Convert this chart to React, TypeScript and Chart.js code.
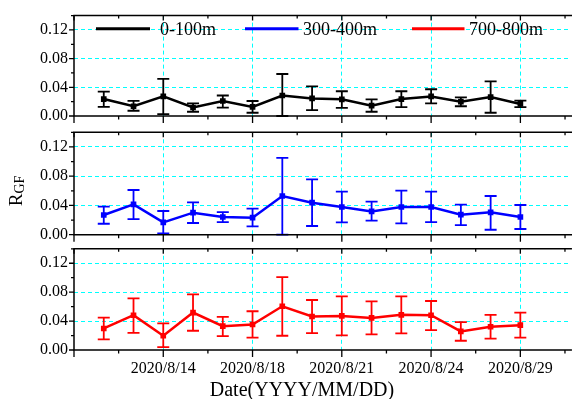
import React, { useEffect, useRef } from 'react';
import { Chart, registerables } from 'chart.js';

Chart.register(...registerables);

// ---- data ----
const pointIndex = [1, 2, 3, 4, 5, 6, 7, 8, 9, 10, 11, 12, 13, 14, 15];
const xTickValues = [0, 1.5, 3, 4.5, 6, 7.5, 9, 10.5, 12, 13.5, 15, 16.5];
const labeledIndex = [3, 6, 9, 12, 15];
const dateLabels = ['2020/8/14', '2020/8/18', '2020/8/21', '2020/8/24', '2020/8/29'];
const yTickValues = [0, 0.02, 0.04, 0.06, 0.08, 0.1, 0.12, 0.14];
const yLabeled = [0, 0.04, 0.08, 0.12];

const seriesNames = ['0-100m', '300-400m', '700-800m'];
const seriesColors = ['#000000', '#0000ff', '#ff0000'];

const mean0 = [0.0236, 0.0136, 0.0273, 0.0118, 0.0209, 0.0127, 0.0286, 0.0245, 0.0232, 0.0145, 0.0236, 0.0273, 0.02, 0.0264, 0.0168];
const high0 = [0.034, 0.021, 0.0518, 0.0177, 0.0286, 0.0209, 0.0586, 0.0414, 0.0345, 0.0232, 0.0345, 0.0373, 0.0259, 0.0482, 0.0214];
const low0 = [0.0127, 0.0073, 0.0027, 0.0059, 0.0118, 0.0045, 0.0, 0.0082, 0.0114, 0.0059, 0.0123, 0.0177, 0.0136, 0.0045, 0.0123];

const mean1 = [0.0269, 0.0415, 0.0169, 0.0301, 0.0242, 0.0233, 0.0529, 0.0438, 0.0379, 0.0319, 0.0379, 0.0379, 0.0274, 0.0306, 0.0242];
const high1 = [0.0383, 0.0611, 0.0324, 0.0442, 0.031, 0.0356, 0.1049, 0.0757, 0.0588, 0.0451, 0.0602, 0.0588, 0.041, 0.0529, 0.0406];
const low1 = [0.015, 0.0214, 0.0018, 0.016, 0.0173, 0.0114, 0.0, 0.0119, 0.0169, 0.0192, 0.0155, 0.0173, 0.0132, 0.0068, 0.0078];

const mean2 = [0.0298, 0.0481, 0.0197, 0.0518, 0.033, 0.0353, 0.0605, 0.0463, 0.0472, 0.0444, 0.0486, 0.0481, 0.0257, 0.0321, 0.0344];
const high2 = [0.0449, 0.0715, 0.0367, 0.077, 0.0458, 0.0536, 0.1008, 0.0692, 0.0742, 0.0674, 0.0742, 0.0678, 0.0385, 0.0486, 0.0518];
const low2 = [0.0147, 0.0238, 0.0041, 0.0266, 0.0192, 0.017, 0.0197, 0.0234, 0.0202, 0.0215, 0.0229, 0.0275, 0.0128, 0.0156, 0.017];

const FONT = "'Liberation Serif', 'Times New Roman', serif";
const CYAN = '#00ffff';

const near = (a: number, b: number) => Math.abs(a - b) < 1e-6;
const isXMajor = (v: number) => labeledIndex.some((m) => near(m, v));
const isYMajor = (v: number) => yLabeled.some((m) => near(m, v));

const framePlugin = {
  id: 'frame',
  afterDraw(chart: any) {
    const { ctx, chartArea } = chart;
    const { left, right, top, bottom } = chartArea;
    const xs = chart.scales.x;
    const ys = chart.scales.y;
    ctx.save();
    ctx.strokeStyle = '#000';
    ctx.lineWidth = 1.5;
    ctx.beginPath();
    ctx.moveTo(left, top);
    ctx.lineTo(right + 2, top);
    ctx.moveTo(left, bottom);
    ctx.lineTo(right + 2, bottom);
    ctx.moveTo(left, top - 0.75);
    ctx.lineTo(left, bottom + 0.75);
    ctx.stroke();
    ctx.lineWidth = 1.3;
    ctx.beginPath();
    xTickValues.forEach((v) => {
      const px = xs.getPixelForValue(v);
      const major = isXMajor(v) || v === 0;
      ctx.moveTo(px, bottom);
      ctx.lineTo(px, bottom + (major ? 7 : 3.5));
      ctx.moveTo(px, top);
      ctx.lineTo(px, top + (major ? 5 : 3));
    });
    yTickValues.forEach((v) => {
      const py = ys.getPixelForValue(v);
      const major = isYMajor(v);
      ctx.moveTo(left, py);
      ctx.lineTo(left - (major ? 5 : 3), py);
    });
    ctx.stroke();
    ctx.restore();
  },
};

const errorBarPlugin = {
  id: 'errorBars',
  afterDatasetsDraw(chart: any, _args: any, opts: any) {
    if (!opts || !opts.high) return;
    const { ctx } = chart;
    const ys = chart.scales.y;
    const meta = chart.getDatasetMeta(0);
    ctx.save();
    ctx.strokeStyle = opts.color;
    ctx.lineWidth = opts.width;
    ctx.beginPath();
    meta.data.forEach((pt: any, i: number) => {
      const x = pt.x;
      const yh = ys.getPixelForValue(opts.high[i]);
      const yl = ys.getPixelForValue(opts.low[i]);
      ctx.moveTo(x, yh);
      ctx.lineTo(x, yl);
      ctx.moveTo(x - 6, yh);
      ctx.lineTo(x + 6, yh);
      ctx.moveTo(x - 6, yl);
      ctx.lineTo(x + 6, yl);
    });
    ctx.stroke();
    ctx.restore();
  },
};

const legendPlugin = {
  id: 'customLegend',
  afterDraw(chart: any, _a: any, opts: any) {
    if (!opts || !opts.show) return;
    const { ctx } = chart;
    const off = opts.offsetY || 0;
    const lines = [
      [96, 150, 160],
      [245, 298.5, 303],
      [412, 464.5, 469],
    ];
    ctx.save();
    ctx.font = `18px ${FONT}`;
    ctx.textBaseline = 'middle';
    ctx.textAlign = 'left';
    lines.forEach((l, i) => {
      ctx.strokeStyle = seriesColors[i];
      ctx.lineWidth = 3;
      ctx.beginPath();
      ctx.moveTo(l[0], 28.7 - off);
      ctx.lineTo(l[1], 28.7 - off);
      ctx.stroke();
      ctx.fillStyle = '#000';
      ctx.fillText(seriesNames[i], l[2], 30.5 - off);
    });
    ctx.restore();
  },
};

const titlesPlugin = {
  id: 'titles',
  afterDraw(chart: any, _a: any, opts: any) {
    if (!opts) return;
    const { ctx } = chart;
    ctx.save();
    ctx.fillStyle = '#000';
    if (opts.yTitle) {
      const cy = opts.yTitleY;
      ctx.translate(22, cy);
      ctx.rotate(-Math.PI / 2);
      ctx.font = `19px ${FONT}`;
      const wR = ctx.measureText('R').width;
      ctx.font = `14px ${FONT}`;
      const wG = ctx.measureText('GF').width;
      const start = -(wR + wG) / 2;
      ctx.textBaseline = 'alphabetic';
      ctx.textAlign = 'left';
      ctx.font = `19px ${FONT}`;
      ctx.fillText('R', start, 0);
      ctx.font = `14px ${FONT}`;
      ctx.fillText('GF', start + wR, 1.5);
    }
    if (opts.xTitle) {
      ctx.font = `20px ${FONT}`;
      ctx.textAlign = 'center';
      ctx.textBaseline = 'middle';
      ctx.fillText('Date(YYYY/MM/DD)', 302, opts.xTitleY);
    }
    ctx.restore();
  },
};

type PanelDef = {
  mean: number[];
  high: number[];
  low: number[];
  color: string;
  canvasTop: number;
  canvasHeight: number;
  chartTop: number;
  chartBottom: number;
  showLabels: boolean;
  legend: boolean;
  yTitle: boolean;
  xTitle: boolean;
};

const panels: PanelDef[] = [
  { mean: mean0, high: high0, low: low0, color: seriesColors[0], canvasTop: 0, canvasHeight: 138, chartTop: 13.3, chartBottom: 116, showLabels: false, legend: true, yTitle: false, xTitle: false },
  { mean: mean1, high: high1, low: low1, color: seriesColors[1], canvasTop: 116, canvasHeight: 140, chartTop: 132.3, chartBottom: 234.7, showLabels: false, legend: false, yTitle: true, xTitle: false },
  { mean: mean2, high: high2, low: low2, color: seriesColors[2], canvasTop: 232, canvasHeight: 167, chartTop: 248.8, chartBottom: 350, showLabels: true, legend: false, yTitle: false, xTitle: true },
];

function Panel({ def }: { def: PanelDef }) {
  const ref = useRef<HTMLCanvasElement>(null);
  useEffect(() => {
    if (!ref.current) return;
    const padTop = def.chartTop - def.canvasTop;
    const xAxisH = def.canvasTop + def.canvasHeight - def.chartBottom;
    const chart = new Chart(ref.current, {
      type: 'line',
      data: {
        datasets: [
          {
            data: pointIndex.map((x, i) => ({ x, y: def.mean[i] })),
            borderColor: def.color,
            backgroundColor: def.color,
            borderWidth: 2.5,
            tension: 0,
            pointStyle: 'rect',
            pointRadius: 4,
            pointBorderWidth: 0,
            pointBackgroundColor: def.color,
          },
        ],
      },
      options: {
        animation: false,
        responsive: false,
        maintainAspectRatio: false,
        events: [],
        layout: { padding: { top: padTop, left: 0, right: 0, bottom: 0 } },
        plugins: {
          legend: { display: false },
          tooltip: { enabled: false },
          errorBars: { high: def.high, low: def.low, color: def.color, width: 1.8 },
          customLegend: { show: def.legend, offsetY: def.canvasTop },
          titles: { yTitle: def.yTitle, yTitleY: 191 - def.canvasTop, xTitle: def.xTitle, xTitleY: 390.3 - def.canvasTop },
        } as any,
        scales: {
          x: {
            type: 'linear',
            min: 0,
            max: 16.667,
            afterBuildTicks: (s: any) => {
              s.ticks = xTickValues.map((v) => ({ value: v }));
            },
            afterFit: (s: any) => {
              s.height = xAxisH;
            },
            grid: {
              color: (c: any) => (c.tick && isXMajor(c.tick.value) ? CYAN : 'rgba(0,0,0,0)'),
              lineWidth: 1,
              drawTicks: false,
              borderDash: [4, 3],
            } as any,
            border: { display: false, dash: [4, 3] },
            ticks: {
              display: def.showLabels,
              autoSkip: false,
              maxRotation: 0,
              padding: 9,
              color: '#000',
              font: { family: FONT, size: 16 },
              callback: (v: any) => {
                const k = labeledIndex.findIndex((m) => near(m, Number(v)));
                return k >= 0 ? dateLabels[k] : '';
              },
            },
          },
          y: {
            min: 0,
            max: 0.14,
            afterBuildTicks: (s: any) => {
              s.ticks = yTickValues.map((v) => ({ value: v }));
            },
            afterFit: (s: any) => {
              s.width = 74;
            },
            grid: {
              color: (c: any) => (c.tick && isYMajor(c.tick.value) && c.tick.value > 0.001 ? CYAN : 'rgba(0,0,0,0)'),
              lineWidth: 1,
              drawTicks: false,
              borderDash: [4, 3],
            } as any,
            border: { display: false, dash: [4, 3] },
            ticks: {
              autoSkip: false,
              padding: 6,
              color: '#000',
              font: { family: FONT, size: 16 },
              callback: (v: any) => (isYMajor(Number(v)) ? Number(v).toFixed(2) : ''),
            },
          },
        },
      },
      plugins: [errorBarPlugin, framePlugin, legendPlugin, titlesPlugin],
    });
    return () => chart.destroy();
  }, [def]);
  return (
    <canvas
      ref={ref}
      width={574}
      height={def.canvasHeight}
      style={{ position: 'absolute', left: 0, top: def.canvasTop, width: 574, height: def.canvasHeight }}
    />
  );
}

export default function App() {
  return (
    <div style={{ position: 'fixed', left: 0, top: 0, width: 574, height: 399, overflow: 'hidden', background: '#fff' }}>
      {panels.map((p, i) => (
        <Panel key={i} def={p} />
      ))}
    </div>
  );
}
